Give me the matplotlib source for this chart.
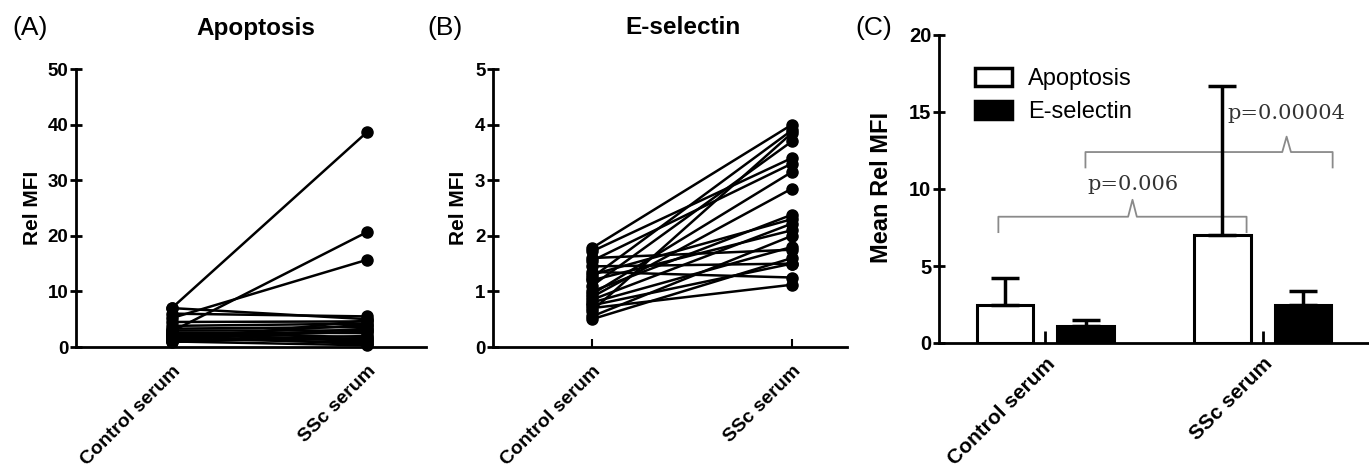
import numpy as np
import matplotlib
matplotlib.use("Agg")
import matplotlib.pyplot as plt
from matplotlib.patches import Patch

plt.rcParams['font.family'] = ['Liberation Sans', 'DejaVu Sans']

# dati
gruppi = ["Control serum", "SSc serum"]

# (A) apoptosi, coppie controllo -> SSc
apo_ctrl = [7.0, 7.0, 5.2, 2.8, 6.0, 4.5, 3.8, 3.3, 3.0, 2.6, 2.4,
            2.2, 2.0, 1.8, 1.6, 1.5, 1.3, 1.2, 1.0, 0.9, 1.1, 2.5]
apo_ssc = [38.7, 5.0, 15.7, 20.7, 5.5, 4.6, 4.2, 3.6, 3.0, 2.5, 1.8,
           1.2, 0.5, 4.0, 2.8, 0.8, 3.3, 1.5, 0.3, 2.0, 4.8, 1.0]

# (B) E-selectina
esel_ctrl = [1.78, 1.72, 1.60, 1.55, 1.45, 1.35, 1.30, 1.25, 1.20, 1.10,
             1.00, 0.95, 0.90, 0.85, 0.80, 0.75, 0.70, 0.65, 0.55, 0.50]
esel_ssc = [4.00, 3.40, 1.75, 3.30, 1.50, 1.25, 2.30, 3.90, 2.10, 3.70,
            2.38, 3.15, 2.85, 2.22, 1.80, 1.50, 1.12, 3.85, 2.00, 1.60]

# (C) medie e deviazioni
media_apo = [2.5, 7.0]
err_apo = [1.7, 9.7]
media_esel = [1.1, 2.5]
err_esel = [0.4, 0.9]

W, H = 1369, 472
fig = plt.figure(figsize=(W / 100, H / 100), dpi=100)


def px_axes(x0, x1, ytop, ybot):
    return fig.add_axes([x0 / W, (H - ybot) / H, (x1 - x0) / W, (ybot - ytop) / H])


def stile(ax, fs_y, fs_x, pad_x):
    for s in ["top", "right"]:
        ax.spines[s].set_visible(False)
    for s in ["left", "bottom"]:
        ax.spines[s].set_linewidth(2)
    ax.tick_params(axis="y", direction="inout", length=9, width=2,
                   labelsize=fs_y, pad=1)
    ax.tick_params(axis="x", direction="in", length=6, width=1.5, pad=pad_x)
    for t in ax.get_yticklabels():
        t.set_fontweight("bold")
    ax.set_xticks([0, 1])
    ax.set_xticklabels(gruppi, rotation=45, ha="right", va="top",
                       rotation_mode="anchor", fontweight="bold", fontsize=fs_x)


def coppie(ax, ctrl, ssc):
    for a, b in zip(ctrl, ssc):
        ax.plot([0, 1], [a, b], color="black", lw=1.8, marker="o", ms=8,
                clip_on=False, zorder=3)


# pannello A
axA = px_axes(76, 426, 69, 347)
coppie(axA, apo_ctrl, apo_ssc)
axA.set_xlim(-0.49, 1.30)
axA.set_ylim(0, 50)
axA.set_yticks([0, 10, 20, 30, 40, 50])
stile(axA, 13.5, 14, 11)

# pannello B
axB = px_axes(493, 847, 69, 347)
coppie(axB, esel_ctrl, esel_ssc)
axB.set_xlim(-0.495, 1.275)
axB.set_ylim(0, 5)
axB.set_yticks([0, 1, 2, 3, 4, 5])
stile(axB, 13.5, 14, 11)

# pannello C
axC = px_axes(939, 1369, 35, 343)
x = np.arange(len(gruppi))
off, wd = 0.185, 0.26
axC.bar(x - off, media_apo, wd, color="white", edgecolor="black", lw=2.2,
        yerr=[[0, 0], err_apo], capsize=10,
        error_kw=dict(elinewidth=2.5, capthick=2.5), zorder=2)
axC.bar(x + off, media_esel, wd, color="black", edgecolor="black", lw=2.2,
        yerr=[[0, 0], err_esel], capsize=10,
        error_kw=dict(elinewidth=2.5, capthick=2.5), zorder=2)
axC.set_xlim(-0.49, 1.49)
axC.set_ylim(0, 20)
axC.set_yticks([0, 5, 10, 15, 20])
stile(axC, 14.5, 15, 8)
axC.tick_params(axis="x", length=9, width=2)

axC.legend(handles=[Patch(facecolor="white", edgecolor="black", lw=2.5, label="Apoptosis"),
                    Patch(facecolor="black", edgecolor="black", lw=2.5, label="E-selectin")],
           loc="upper left", bbox_to_anchor=((975 - 939) / 430, 1 - (68 - 35) / 308),
           frameon=False, fontsize=17, handlelength=1.55, handleheight=0.8,
           handletextpad=0.7, labelspacing=0.45, borderpad=0, borderaxespad=0)


# graffe con p-value
def graffa(ax, x0, x1, xm, yb, ye, yp, testo, ty):
    ax.plot([x0, x0, xm - 0.02, xm, xm + 0.02, x1, x1],
            [ye, yb, yb, yp, yb, yb, ye], color="#8a8a8a", lw=1.3,
            zorder=1, solid_joinstyle="round")
    ax.text(xm, ty, testo, ha="center", va="center", fontsize=15,
            family="DejaVu Serif", color="#333333")


def dx(p):
    return (p - 1046) / 217.0


graffa(axC, dx(999), dx(1247), dx(1133), 8.2, 7.2, 9.3, "p=0.006", 10.3)
graffa(axC, dx(1086), dx(1333), dx(1287), 12.4, 11.4, 13.4, "p=0.00004", 14.9)

# titoli ed etichette
fig.text(256 / W, 1 - 28 / H, "Apoptosis", ha="center", va="center",
         fontsize=17.5, fontweight="bold")
fig.text(683 / W, 1 - 28 / H, "E-selectin", ha="center", va="center",
         fontsize=17.5, fontweight="bold")
fig.text(12 / W, 1 - 28 / H, "(A)", ha="left", va="center", fontsize=19)
fig.text(427 / W, 1 - 28 / H, "(B)", ha="left", va="center", fontsize=19)
fig.text(855 / W, 1 - 28 / H, "(C)", ha="left", va="center", fontsize=19)
fig.text(32 / W, 1 - 208 / H, "Rel MFI", rotation=90, ha="center", va="center",
         fontsize=15, fontweight="bold")
fig.text(458 / W, 1 - 208 / H, "Rel MFI", rotation=90, ha="center", va="center",
         fontsize=15, fontweight="bold")
fig.text(882 / W, 1 - 187 / H, "Mean Rel MFI", rotation=90, ha="center",
         va="center", fontsize=17, fontweight="bold")

fig.savefig("out.png", dpi=100)
